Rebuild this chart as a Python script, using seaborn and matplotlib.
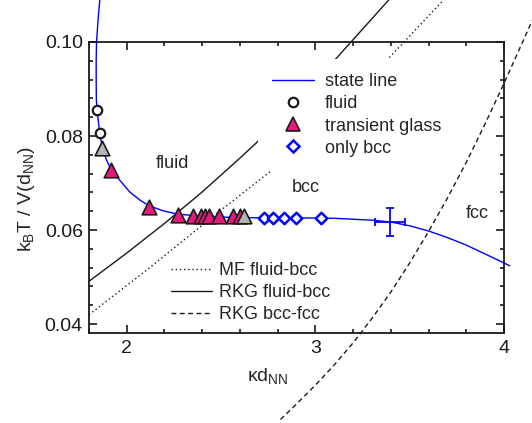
import numpy as np
import pandas as pd
import matplotlib
matplotlib.use('Agg')
import matplotlib.pyplot as plt
import seaborn as sns
from matplotlib.lines import Line2D
from matplotlib.ticker import MultipleLocator, FormatStrFormatter

# state line: kappa*d_NN vs k_B T / V(d_NN)
state_x = [1.857, 1.848, 1.840, 1.838, 1.838, 1.839, 1.843, 1.850, 1.857, 1.871,
           1.893, 1.915, 1.963, 2.016, 2.069, 2.116, 2.192, 2.270, 2.400, 2.550,
           2.700, 2.900, 3.100, 3.200, 3.300, 3.400, 3.500, 3.600, 3.700, 3.800,
           3.900, 4.000, 4.030]
state_y = [0.1089, 0.1047, 0.1000, 0.0960, 0.0920, 0.0877, 0.0855, 0.0830, 0.0806, 0.0774,
           0.0749, 0.0730, 0.0706, 0.0681, 0.0664, 0.0652, 0.0641, 0.0634, 0.0629, 0.0627,
           0.0626, 0.0626, 0.0625, 0.0623, 0.0621, 0.0617, 0.0609, 0.0598, 0.0584, 0.0568,
           0.0549, 0.0530, 0.0524]

# measured points
fluid_x = [1.843, 1.857]
fluid_y = [0.0855, 0.0806]
glass_x = [1.915, 2.116, 2.270, 2.351, 2.395, 2.413, 2.436, 2.488, 2.566, 2.598]
glass_y = [0.0728, 0.0650, 0.0632, 0.0630, 0.0630, 0.0629, 0.0629, 0.0629, 0.0629, 0.0629]
gray_x = [1.871, 2.624]
gray_y = [0.0774, 0.0629]
bcc_x = [2.730, 2.774, 2.832, 2.898, 3.030]
bcc_y = [0.0625, 0.0625, 0.0625, 0.0625, 0.0625]
err_x, err_y = [3.395], [0.0617]
err_dx, err_dy = [0.08], [0.003]

# phase boundaries
mf_x = [1.80, 2.10, 2.47, 2.775, 3.10, 3.397, 3.679]
mf_y = [0.0420, 0.0513, 0.0633, 0.0729, 0.0850, 0.0969, 0.1089]
rkg_fb_x = [1.80, 2.00, 2.20, 2.40, 2.60, 2.686, 2.90, 3.115, 3.388]
rkg_fb_y = [0.0491, 0.0551, 0.0614, 0.0681, 0.0753, 0.0785, 0.0874, 0.0967, 0.1089]
rkg_bf_x = [2.815, 2.90, 3.00, 3.10, 3.20, 3.30, 3.40, 3.50, 3.60, 3.70, 3.80, 3.90, 4.00, 4.15]
rkg_bf_y = [0.0197, 0.0230, 0.0270, 0.0313, 0.0360, 0.0412, 0.0468, 0.0530, 0.0597,
            0.0668, 0.0744, 0.0826, 0.0912, 0.1046]

sns.set_theme(style='ticks')
plt.rcParams['font.family'] = ['Liberation Sans', 'DejaVu Sans']
plt.rcParams['mathtext.fontset'] = 'custom'
plt.rcParams['mathtext.rm'] = 'Liberation Sans'

blue = '#0000ff'
pink = '#e8197c'
gray = '#b4b4b4'
dotted = (0, (1, 2))
dashed = (0, (3.5, 2.5))

fig = plt.figure(figsize=(5.32, 4.23), dpi=100)
ax = fig.add_axes([89 / 532, 1 - 333 / 423, 415 / 532, 291 / 423])

line_kw = dict(ax=ax, sort=False, estimator=None, errorbar=None, clip_on=False, lw=1.0)
sns.lineplot(x=mf_x, y=mf_y, color='k', linestyle=dotted, **line_kw)
sns.lineplot(x=rkg_fb_x, y=rkg_fb_y, color='k', **line_kw)
sns.lineplot(x=rkg_bf_x, y=rkg_bf_y, color='k', linestyle=dashed, **line_kw)
sns.lineplot(x=state_x, y=state_y, color=blue, **line_kw)

ax.errorbar(err_x, err_y, xerr=err_dx, yerr=err_dy, fmt='none', ecolor=blue,
            elinewidth=1.3, capsize=3, capthick=1.3, zorder=3)

sns.scatterplot(x=fluid_x, y=fluid_y, ax=ax, marker='o', s=46, facecolor='white',
                edgecolor='k', linewidth=1.6, zorder=4)
sns.scatterplot(x=glass_x, y=glass_y, ax=ax, marker='^', s=110, color=pink,
                edgecolor='k', linewidth=1.2, zorder=4)
sns.scatterplot(x=gray_x, y=gray_y, ax=ax, marker='^', s=110, color=gray,
                edgecolor='k', linewidth=1.2, zorder=4)
sns.scatterplot(x=bcc_x, y=bcc_y, ax=ax, marker='D', s=34, facecolor='white',
                edgecolor=blue, linewidth=1.8, zorder=4)

ax.text(2.242, 0.0742, 'fluid', ha='center', va='center', fontsize=13)
ax.text(2.947, 0.0690, 'bcc', ha='center', va='center', fontsize=13)
ax.text(3.859, 0.0635, 'fcc', ha='center', va='center', fontsize=13)

ax.set_xlim(1.8, 4.0)
ax.set_ylim(0.0381, 0.10)
ax.xaxis.set_major_locator(MultipleLocator(1))
ax.xaxis.set_minor_locator(MultipleLocator(0.2))
ax.yaxis.set_major_locator(MultipleLocator(0.02))
ax.yaxis.set_minor_locator(MultipleLocator(0.004))
ax.xaxis.set_major_formatter(FormatStrFormatter('%g'))
ax.yaxis.set_major_formatter(FormatStrFormatter('%.2f'))
ax.tick_params(which='both', direction='in', top=True, right=True, width=1.2,
               labelsize=14, color='k', labelcolor='k')
ax.tick_params(which='major', length=5.5)
ax.tick_params(which='minor', length=3)
ax.tick_params(axis='x', pad=5)
ax.tick_params(axis='y', pad=4.5)
for sp in ax.spines.values():
    sp.set_linewidth(1.3)
    sp.set_color('k')
    sp.set_visible(True)

ax.set_xlabel('κd$_\\mathregular{NN}$', fontsize=14)
ax.set_ylabel('k$_\\mathregular{B}$T / V(d$_\\mathregular{NN}$)', fontsize=14)
ax.xaxis.set_label_coords(0.431, -0.115)
ax.yaxis.set_label_coords(-0.125, 0.46)

h1 = [Line2D([], [], color=blue, lw=1.0),
      Line2D([], [], ls='none', marker='o', ms=6.8, mfc='white', mec='k', mew=1.6),
      Line2D([], [], ls='none', marker='^', ms=10.5, mfc=pink, mec='k', mew=1.2),
      Line2D([], [], ls='none', marker='D', ms=5.8, mfc='white', mec=blue, mew=1.8)]
leg1 = ax.legend(h1, ['state line', 'fluid', 'transient glass', 'only bcc'],
                 loc='upper left', bbox_to_anchor=(258 / 532, 1 - 59 / 423),
                 bbox_transform=fig.transFigure, frameon=True, facecolor='white',
                 edgecolor='none', framealpha=1, fancybox=False, borderpad=0.8,
                 borderaxespad=0, handlelength=2.3, handletextpad=0.6,
                 labelspacing=0.28, fontsize=13)
ax.add_artist(leg1)

h2 = [Line2D([], [], color='k', lw=1.0, ls=dotted),
      Line2D([], [], color='k', lw=1.0),
      Line2D([], [], color='k', lw=1.0, ls=dashed)]
ax.legend(h2, ['MF fluid-bcc', 'RKG fluid-bcc', 'RKG bcc-fcc'],
          loc='upper left', bbox_to_anchor=(170.7 / 532, 1 - 262 / 423),
          bbox_transform=fig.transFigure, frameon=False, borderpad=0,
          borderaxespad=0, handlelength=2.3, handletextpad=0.35,
          labelspacing=0.28, fontsize=13)

fig.savefig('out.png', dpi=100, facecolor='white')
